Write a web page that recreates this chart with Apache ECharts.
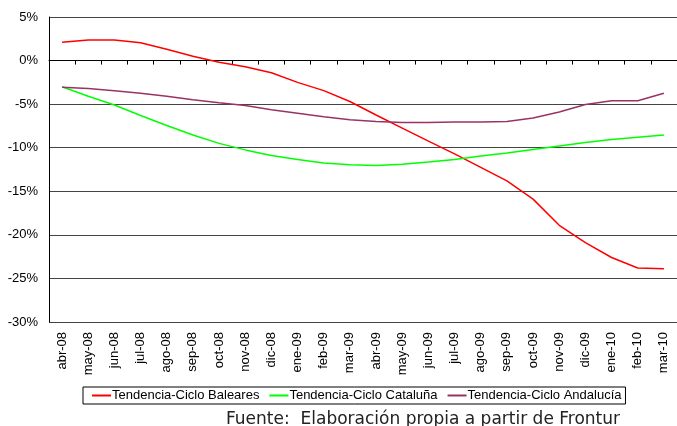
<!DOCTYPE html>
<html>
<head>
<meta charset="utf-8">
<script src="https://cdn.jsdelivr.net/npm/echarts@6/dist/echarts.min.js"></script>
<style>
  html, body { margin: 0; padding: 0; background: #fff; }
  #chart { width: 677px; height: 426px; }
</style>
</head>
<body>
<div id="chart"></div>
<script>
// meses abr-08 .. mar-10
var months = ["abr-08", "may-08", "jun-08", "jul-08", "ago-08", "sep-08", "oct-08", "nov-08",
  "dic-08", "ene-09", "feb-09", "mar-09", "abr-09", "may-09", "jun-09", "jul-09",
  "ago-09", "sep-09", "oct-09", "nov-09", "dic-09", "ene-10", "feb-10", "mar-10"];

var baleares = [2.1, 2.35, 2.35, 2.05, 1.3, 0.5, -0.2, -0.7, -1.4, -2.5, -3.45, -4.7,
  -6.25, -7.75, -9.25, -10.7, -12.25, -13.8, -15.9, -18.9, -20.9, -22.6, -23.8, -23.9];

var cataluna = [-3.0, -4.1, -5.1, -6.3, -7.45, -8.55, -9.5, -10.25, -10.9, -11.35, -11.75, -11.95,
  -12.05, -11.9, -11.65, -11.35, -10.95, -10.6, -10.2, -9.8, -9.4, -9.05, -8.8, -8.55];

var andalucia = [-3.05, -3.2, -3.45, -3.75, -4.1, -4.5, -4.85, -5.15, -5.65, -6.05, -6.45, -6.8,
  -7.0, -7.1, -7.1, -7.05, -7.05, -7.0, -6.6, -5.9, -5.05, -4.6, -4.6, -3.75];

var seriesNames = ["Tendencia-Ciclo Baleares", "Tendencia-Ciclo Cataluña", "Tendencia-Ciclo Andalucía"];
var fuente = "Fuente:  Elaboración propia a partir de Frontur";

function lineSeries(name, data, color) {
  return {
    name: name,
    type: "line",
    data: data,
    symbol: "none",
    smooth: false,
    lineStyle: { color: color, width: 1.5 },
    itemStyle: { color: color }
  };
}

var chart = echarts.init(document.getElementById("chart"));
var option = {
  animation: false,
  grid: { left: 49, right: -4, top: 17, bottom: 104 },
  legend: {
    data: seriesNames,
    left: 83,
    top: 387,
    padding: [2, 4, 2, 9],
    itemGap: 10,
    itemWidth: 19,
    itemHeight: 2,
    icon: "rect",
    borderColor: "#000",
    borderWidth: 1,
    borderRadius: 0,
    textStyle: { color: "#000", fontFamily: "Liberation Sans, Arial", fontSize: 13, padding: [0, 0, 0, -4] }
  },
  xAxis: {
    type: "category",
    data: months,
    boundaryGap: true,
    axisLine: { lineStyle: { color: "#000", width: 1 } },
    axisTick: { show: true, length: 4, alignWithLabel: false, lineStyle: { color: "#000" } },
    axisLabel: {
      rotate: 90,
      interval: 0,
      margin: 10,
      color: "#000",
      fontFamily: "Liberation Sans, Arial",
      fontSize: 13
    },
    splitLine: { show: false }
  },
  yAxis: {
    type: "value",
    min: -30,
    max: 5,
    interval: 5,
    axisLine: { show: true, lineStyle: { color: "#000", width: 1 } },
    axisTick: { show: false },
    axisLabel: {
      formatter: "{value}%",
      margin: 11,
      color: "#000",
      fontFamily: "Liberation Sans, Arial",
      fontSize: 13
    },
    splitLine: { show: true, lineStyle: { color: "#444", width: 1 } }
  },
  graphic: [
    {
      type: "text",
      left: 226,
      top: 411,
      style: {
        text: fuente,
        fill: "#222",
        fontSize: 17,
        fontFamily: "DejaVu Sans"
      }
    }
  ],
  series: [
    lineSeries(seriesNames[0], baleares, "#ff0000"),
    lineSeries(seriesNames[1], cataluna, "#00ff00"),
    lineSeries(seriesNames[2], andalucia, "#993366")
  ]
};
chart.setOption(option);
</script>
</body>
</html>
